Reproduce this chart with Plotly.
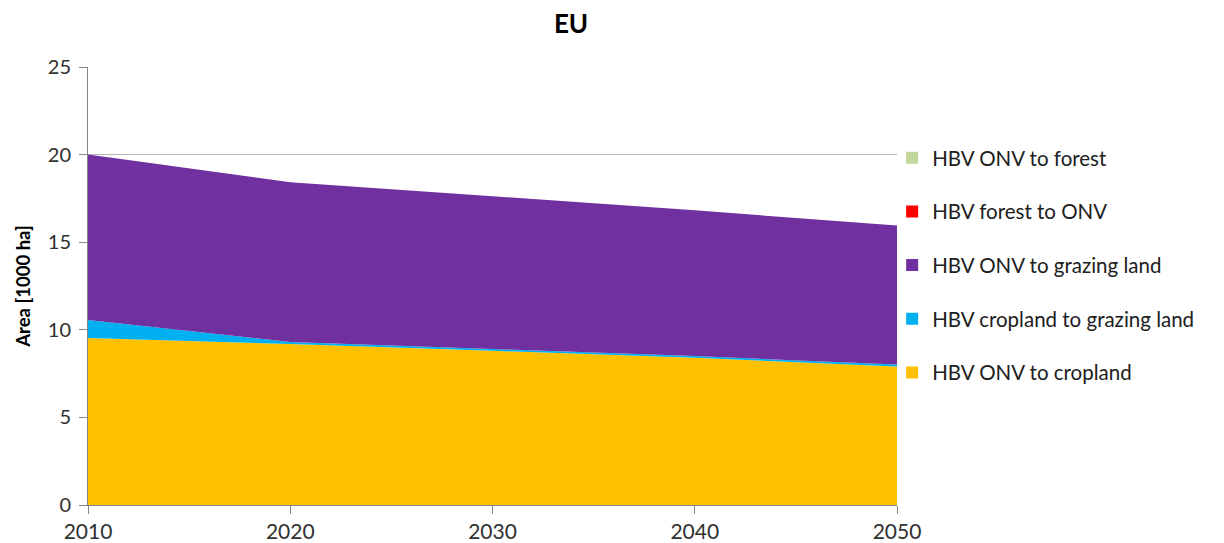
import plotly.graph_objects as go

years = [2010, 2020, 2030, 2040, 2050]
onv_to_cropland = [9.53, 9.19, 8.80, 8.40, 7.90]
cropland_to_grazing = [1.03, 0.12, 0.10, 0.10, 0.12]
onv_to_grazing = [9.44, 9.11, 8.72, 8.32, 7.93]
forest_to_onv = [0.0, 0.0, 0.0, 0.0, 0.0]
onv_to_forest = [0.0, 0.0, 0.0, 0.0, 0.0]

series = [
    ("HBV ONV to cropland", onv_to_cropland, "#FFC000"),
    ("HBV cropland to grazing land", cropland_to_grazing, "#00B0F0"),
    ("HBV ONV to grazing land", onv_to_grazing, "#7030A0"),
    ("HBV forest to ONV", forest_to_onv, "#FF0000"),
    ("HBV ONV to forest", onv_to_forest, "#C3D69B"),
]

fig = go.Figure()
for name, vals, col in series:
    fig.add_trace(go.Scatter(
        x=years, y=vals, name=name, mode="lines", stackgroup="one",
        line=dict(width=0, color=col), fillcolor=col, showlegend=False,
        hoverinfo="x+y+name"))
for rank, (name, vals, col) in enumerate(reversed(series)):
    fig.add_trace(go.Scatter(
        x=[None], y=[None], name=name, mode="markers",
        marker=dict(symbol="square", size=12, color=col),
        legendgroup=name, legendrank=rank + 1, showlegend=True))

font = "Lato, 'Noto Sans', sans-serif"
fig.update_layout(
    width=1216, height=535,
    margin=dict(l=80, r=327, t=59, b=38),
    paper_bgcolor="white", plot_bgcolor="white",
    font=dict(family=font, size=20, color="#303030"),
    title=dict(text="<b>EU</b>", x=0.463, xanchor="center", y=0.97, yanchor="middle",
               font=dict(size=26, color="#000000", family=font)),
    xaxis=dict(range=[2010, 2050], tickvals=years, ticks="outside", ticklen=8,
               tickcolor="#868686", showline=True, linecolor="#868686", linewidth=1,
               showgrid=False, zeroline=False, tickfont=dict(size=21), automargin=False),
    yaxis=dict(range=[0, 25], dtick=5, ticks="outside", ticklen=8, tickcolor="#868686",
               showline=True, linecolor="#868686", linewidth=1,
               showgrid=True, gridcolor="#B8B8B8", gridwidth=1, zeroline=False,
               tickfont=dict(size=20), automargin=False, ticklabelstandoff=4,
               title=dict(text="<b>Area [1000 ha]</b>", font=dict(size=18.5, color="#000000"), standoff=12)),
    legend=dict(x=0.994, xanchor="left", y=0.838, yanchor="top",
                traceorder="grouped", tracegroupgap=24, bgcolor="rgba(0,0,0,0)",
                font=dict(size=20.5, color="#202020"), itemwidth=30),
)
fig.write_html("out.html")
